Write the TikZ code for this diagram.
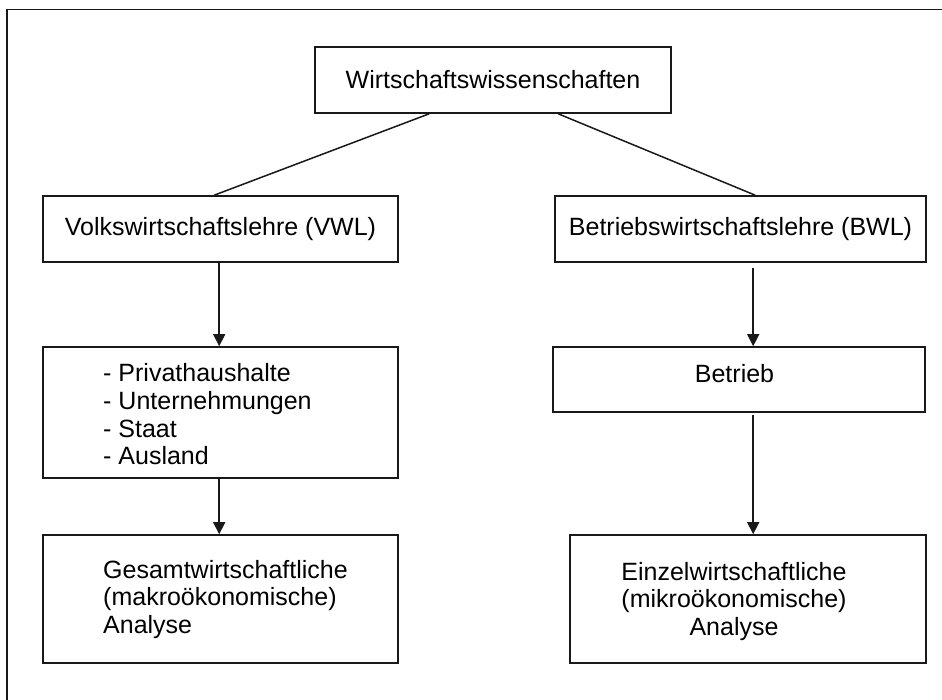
\documentclass[tikz,border=0pt]{standalone}
\usepackage{fontspec}
\setmainfont{Liberation Sans}
\usetikzlibrary{arrows.meta,calc}
\begin{document}
\begin{tikzpicture}[x=1pt,y=-1pt,
  box/.style={draw=black!90, line width=1.6pt, rectangle, inner sep=0pt, font=\fontsize{25}{27.7}\selectfont},
  lbl/.style={inner sep=0pt, font=\fontsize{25}{27.7}\selectfont},
  conn/.style={draw=black!90, line width=1.5pt},
  arr/.style={conn, -{Triangle[length=12pt,width=12pt]}}]
\useasboundingbox (0,0) rectangle (942,700);
% frame
\coordinate (frTL) at (7,9.5);
\coordinate (frTR) at (942,9.5);
\coordinate (frBL) at (7,700);
\draw[conn] (frTR) -- (frTL) -- (frBL);
% boxes
\node[box, minimum width=356pt, minimum height=66pt] (top) at (493,80) {Wirtschaftswissenschaften};
\node[box, minimum width=355pt, minimum height=66pt] (vwl) at (220.5,229) {Volkswirtschaftslehre (VWL)};
\node[box, minimum width=371pt, minimum height=66pt] (bwl) at (740.5,229) {Betriebswirtschaftslehre (BWL)};
\node[box, minimum width=355pt, minimum height=131pt] (list) at (220.5,412.5) {};
\node[box, minimum width=372pt, minimum height=65pt] (betrieb) at (739,379.5) {};
\node[box, minimum width=355pt, minimum height=128pt] (gesamt) at (220.5,599) {};
\node[box, minimum width=356pt, minimum height=128pt] (einzel) at (748,599) {};
% texts
\node[lbl, anchor=west, align=left] (listtxt) at (103,414.5) {- Privathaushalte\\- Unternehmungen\\- Staat\\- Ausland};
\node[lbl, anchor=base] (betriebtxt) at (734.5,382) {Betrieb};
\node[lbl, anchor=west, align=left] (gesamttxt) at (103,599.5) {Gesamtwirtschaftliche\\(makroökonomische)\\Analyse};
\node[lbl, align=center] (einzeltxt) at (734,601.5) {Einzelwirtschaftliche\\(mikroökonomische)\\Analyse};
% connectors
\draw[conn] ([xshift=115pt]top.south west) -- ([xshift=172pt]vwl.north west);
\draw[conn] ([xshift=244pt]top.south west) -- ([xshift=201pt]bwl.north west);
\draw[arr] ([xshift=177pt]vwl.south west) coordinate (a1) -- (a1 |- list.north);
\draw[arr] ([xshift=199pt,yshift=-5pt]bwl.south west) coordinate (b1) -- (b1 |- betrieb.north);
\draw[arr] ([xshift=201pt,yshift=-2pt]betrieb.south west) coordinate (b2) -- (b2 |- einzel.north);
\draw[arr] ([xshift=177pt]list.south west) coordinate (a2) -- (a2 |- gesamt.north);
\end{tikzpicture}
\end{document}
